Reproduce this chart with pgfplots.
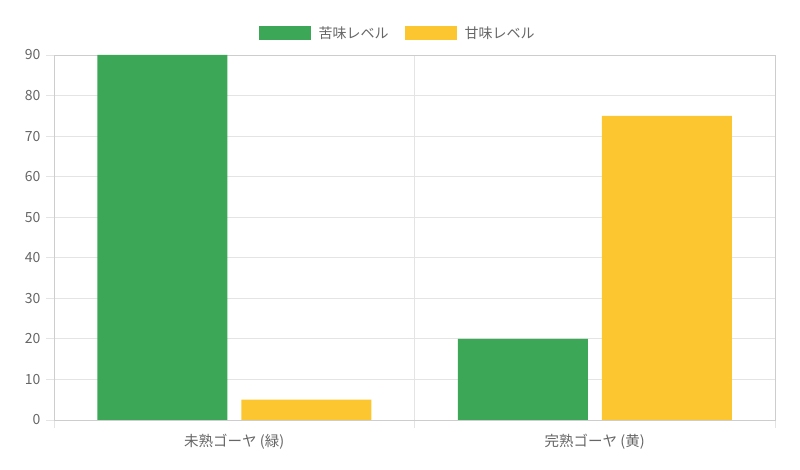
\documentclass[border=0pt]{standalone}
\usepackage{fontspec}
\setmainfont{Noto Sans CJK JP}
\usepackage{pgfplots}
\pgfplotsset{compat=1.18}
\definecolor{bitter}{HTML}{3CA756}
\definecolor{sweet}{HTML}{FCC630}
\definecolor{gridc}{HTML}{E4E4E4}
\definecolor{txt}{HTML}{666666}

\begin{document}
\begin{tikzpicture}[x=1pt,y=1pt,font=\fontsize{14}{16}\selectfont]
\useasboundingbox (-54,-50) rectangle (746,420);
\begin{axis}[
  at={(0,0)}, anchor=south west,
  scale only axis, width=721pt, height=365pt,
  xmin=-0.5, xmax=1.5, ymin=0, ymax=90,
  xtick={0,1},
  xticklabels={未熟ゴーヤ (緑), 完熟ゴーヤ (黄)},
  minor xtick={-0.5,0.5,1.5},
  ytick={0,10,...,90},
  xtick pos=bottom, ytick pos=left,
  tick align=outside,
  major tick length=8pt, minor tick length=8pt,
  major x tick style={draw=none},
  tick style={gridc, line width=0.8pt},
  ymajorgrids, xminorgrids,
  grid style={gridc, line width=0.8pt},
  axis line style={gridc!90!black, line width=0.8pt},
  tick label style={txt},
  xticklabel style={font=\fontsize{14.5}{16}\selectfont, yshift=-3pt},
  yticklabel style={font=\fontsize{14}{16}\selectfont, xshift=-2pt},
  /pgf/number format/assume math mode=true,
  legend style={at={(0.5,1)}, anchor=south, xshift=-17pt, yshift=11pt, draw=none,
    text=txt, font=\fontsize{14}{16}\selectfont,
    /tikz/every odd column/.append style={column sep=6pt},
    /tikz/every even column/.append style={column sep=14pt}},
  legend columns=2,
]
\addplot[ybar, bar width=130pt, bar shift=-72pt, fill=bitter, draw=none,
  legend image code/.code={\fill[bitter] (0pt,-7pt) rectangle (52pt,7pt);}]
  coordinates {(0,90) (1,20)};
\addlegendentry{苦味レベル}
\addplot[ybar, bar width=130pt, bar shift=72pt, fill=sweet, draw=none,
  legend image code/.code={\fill[sweet] (0pt,-7pt) rectangle (52pt,7pt);}]
  coordinates {(0,5) (1,75)};
\addlegendentry{甘味レベル}
\end{axis}
\end{tikzpicture}
\end{document}
